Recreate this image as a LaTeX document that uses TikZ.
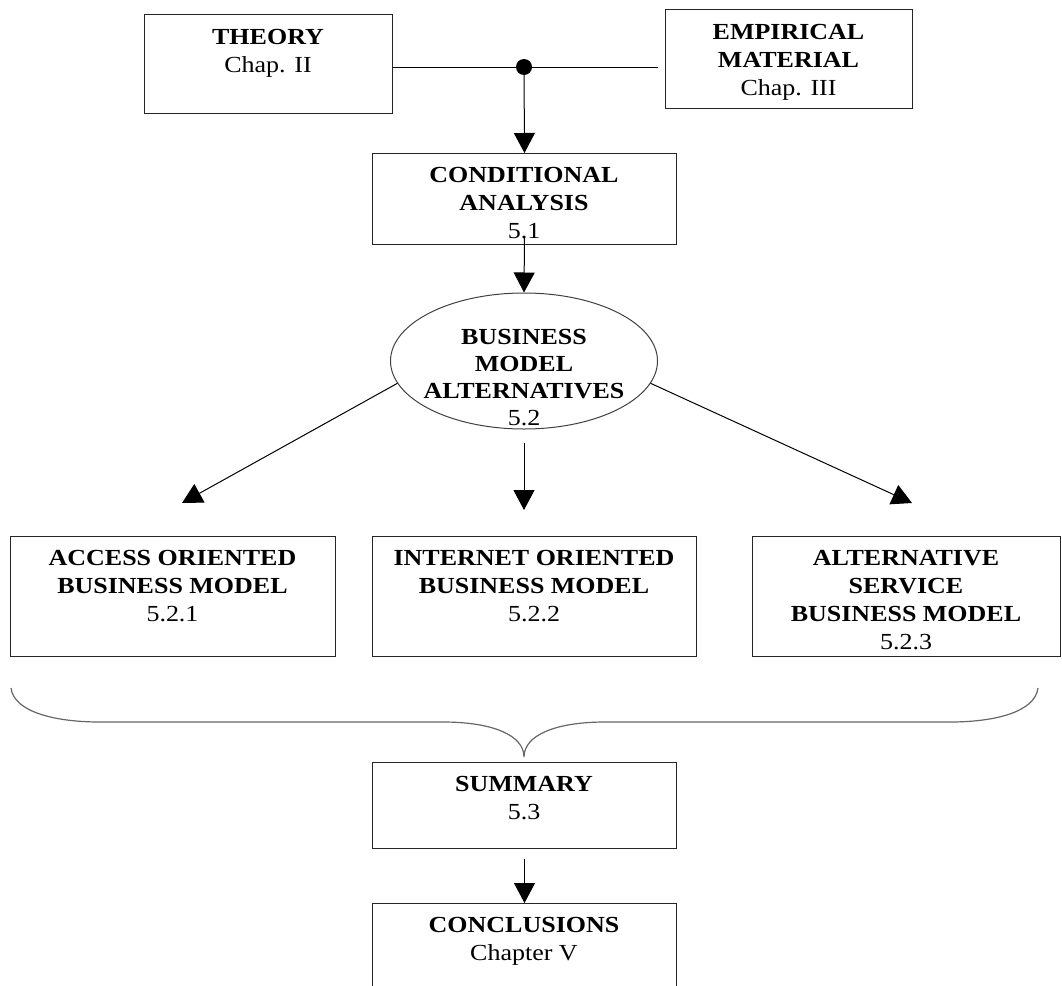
\documentclass[tikz,border=0pt]{standalone}
\usepackage{fontspec}
\setmainfont{Liberation Serif}[FakeStretch=1.13]
\usetikzlibrary{arrows.meta,shapes.geometric,calc}
\begin{document}
\begin{tikzpicture}[x=1pt,y=-1pt,
  boxs/.style={draw=black!85, line width=1pt, rectangle, inner sep=0pt, anchor=north west},
  txt/.style={align=center, inner sep=0pt, anchor=north, font=\fontsize{23}{28}\selectfont},
  conn/.style={line width=1pt, draw=black},
  arr/.style={line width=1pt, draw=black, -{Triangle[length=20pt,width=21pt]}},
  bracestyle/.style={line width=1.2pt, draw=black!60},
]
\useasboundingbox (0,0) rectangle (1062,985);
\clip (0,0) rectangle (1062,985);

% boxes
\node[boxs, minimum width=248pt, minimum height=99pt] (theory) at (144,14) {};
\node[boxs, minimum width=247pt, minimum height=99pt] (emp) at (665,9) {};
\node[boxs, minimum width=304pt, minimum height=91pt] (cond) at (372,153) {};
\node[draw=black!75, line width=1pt, ellipse, inner sep=0pt, minimum width=267pt, minimum height=136pt] (bm) at (524,361) {};
\node[boxs, minimum width=325pt, minimum height=120pt] (access) at (10,536) {};
\node[boxs, minimum width=324pt, minimum height=120pt] (internet) at (372,536) {};
\node[boxs, minimum width=308pt, minimum height=120pt] (altern) at (752,536) {};
\node[boxs, minimum width=304pt, minimum height=86pt] (summary) at (372,762) {};
\node[boxs, minimum width=304pt, minimum height=110pt] (concl) at (372,903) {};

% texts
\node[txt] (theoryT) at (268,29.5) {\textbf{THEORY}\\Chap. II};
\node[txt] (empT) at (788.5,24.5) {\textbf{EMPIRICAL}\\\textbf{MATERIAL}\\Chap. III};
\node[txt] (condT) at (524,167.5) {\textbf{CONDITIONAL}\\\textbf{ANALYSIS}\\5.1};
\node[txt, font=\fontsize{23}{27}\selectfont] (bmT) at (524,329.5) {\textbf{BUSINESS}\\\textbf{MODEL}\\\textbf{ALTERNATIVES}\\5.2};
\node[txt] (accessT) at (172.5,550.5) {\textbf{ACCESS ORIENTED}\\\textbf{BUSINESS MODEL}\\5.2.1};
\node[txt] (internetT) at (534,550.5) {\textbf{INTERNET ORIENTED}\\\textbf{BUSINESS MODEL}\\5.2.2};
\node[txt] (alternT) at (906,550.5) {\textbf{ALTERNATIVE}\\\textbf{SERVICE}\\\textbf{BUSINESS MODEL}\\5.2.3};
\node[txt] (summaryT) at (524,776.5) {\textbf{SUMMARY}\\5.3};
\node[txt] (conclT) at (524,917.5) {\textbf{CONCLUSIONS}\\Chapter V};

% connectors
\coordinate (dot) at (524,67);
\coordinate (lineend) at (658,67);
\draw[conn] (theory.east |- dot) -- (lineend);
\fill (dot) circle (8pt);
\draw[arr] (dot) -- (cond.north);
\draw[arr] ([yshift=8pt]cond.south) -- (bm.north);

\coordinate (tipL) at (182,503);
\coordinate (tipM) at (524,510);
\coordinate (tipR) at (912,503);
\draw[arr] (bm.190) -- (tipL);
\draw[arr] ([yshift=-13pt]bm.south) -- (tipM);
\draw[arr] (bm.350) -- (tipR);

% brace
\draw[bracestyle] (11,688) .. controls (14,712) and (55,722) .. (100,722) -- (443,722)
  .. controls (492,722) and (524,735) .. (524,757)
  .. controls (524,735) and (556,722) .. (605,722) -- (950,722)
  .. controls (995,722) and (1035,712) .. (1038,688);

\draw[arr] ([yshift=-10pt]summary.south) -- (concl.north);
\end{tikzpicture}
\end{document}
